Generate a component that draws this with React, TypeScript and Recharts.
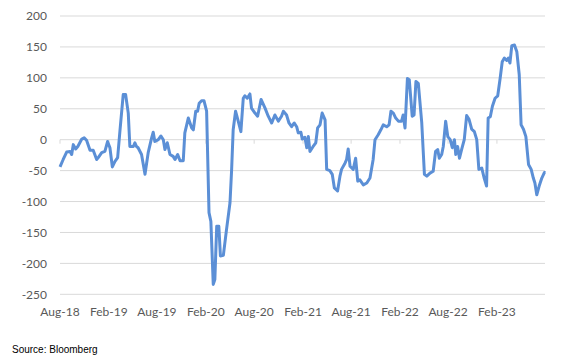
import React from "react";
import { LineChart, Line, XAxis, YAxis, CartesianGrid, ReferenceLine } from "recharts";

const dates: string[] = [
  "2018-08-01","2018-08-13","2018-08-26","2018-09-08","2018-09-14","2018-09-20","2018-09-29","2018-10-07","2018-10-22","2018-10-31",
  "2018-11-09","2018-11-22","2018-12-04","2018-12-17","2018-12-23","2019-01-05","2019-01-17","2019-01-27","2019-02-05","2019-02-14",
  "2019-02-24","2019-03-06","2019-03-15","2019-03-27","2019-04-05","2019-04-15","2019-04-21","2019-05-04","2019-05-10","2019-05-16",
  "2019-05-22","2019-06-04","2019-06-17","2019-06-29","2019-07-12","2019-07-18","2019-07-24","2019-08-06","2019-08-16","2019-08-25",
  "2019-08-31","2019-09-09","2019-09-19","2019-10-01","2019-10-08","2019-10-18","2019-10-27","2019-11-08","2019-11-14","2019-11-27",
  "2019-12-10","2019-12-16","2019-12-25","2020-01-01","2020-01-07","2020-01-16","2020-01-25","2020-02-04","2020-02-13","2020-02-20",
  "2020-02-29","2020-03-06","2020-03-13","2020-03-21","2020-03-27","2020-04-07","2020-04-19","2020-05-02","2020-05-08","2020-05-14",
  "2020-05-23","2020-06-02","2020-06-12","2020-06-21","2020-06-27","2020-07-06","2020-07-16","2020-07-22","2020-08-04","2020-08-14",
  "2020-08-27","2020-09-11","2020-09-23","2020-10-06","2020-10-18","2020-10-31","2020-11-12","2020-11-19","2020-12-01","2020-12-10",
  "2020-12-20","2020-12-30","2021-01-08","2021-01-14","2021-01-24","2021-01-29","2021-02-08","2021-02-15","2021-02-21","2021-02-27",
  "2021-03-11","2021-03-21","2021-03-28","2021-04-06","2021-04-14","2021-04-25","2021-05-01","2021-05-13","2021-05-22","2021-05-30",
  "2021-06-11","2021-06-20","2021-06-26","2021-07-09","2021-07-15","2021-07-21","2021-07-28","2021-08-09","2021-08-18","2021-08-26",
  "2021-09-03","2021-09-16","2021-09-29","2021-10-11","2021-10-23","2021-10-30","2021-11-11","2021-11-21","2021-11-30","2021-12-13",
  "2021-12-22","2021-12-29","2022-01-07","2022-01-16","2022-01-26","2022-02-07","2022-02-13","2022-02-20","2022-03-01","2022-03-08",
  "2022-03-19","2022-03-26","2022-04-02","2022-04-11","2022-04-24","2022-05-04","2022-05-13","2022-05-25","2022-06-06","2022-06-15",
  "2022-06-23","2022-06-29","2022-07-08","2022-07-14","2022-07-23","2022-07-31","2022-08-09","2022-08-17","2022-08-25","2022-08-30",
  "2022-09-06","2022-09-13","2022-09-21","2022-10-01","2022-10-10","2022-10-19","2022-10-29","2022-11-08","2022-11-17","2022-11-25",
  "2022-12-06","2022-12-15","2022-12-24","2022-12-30","2023-01-07","2023-01-15","2023-01-25","2023-02-04","2023-02-13","2023-02-21",
  "2023-03-01","2023-03-10","2023-03-16","2023-03-22","2023-03-29","2023-04-08","2023-04-17","2023-04-26","2023-05-03","2023-05-12",
  "2023-05-21","2023-05-31","2023-06-10","2023-06-18","2023-06-24","2023-07-01","2023-07-10","2023-07-20","2023-07-30","2023-08-01",
];

const values: number[] = [
  -44, -32, -20, -19, -24, -8, -15, -11, 1, 3,
  -1, -17, -17, -32, -29, -21, -19, -3, -13, -44,
  -35, -29, 16, 73, 73, 43, -11, -11, -5, -11,
  -13, -24, -56, -21, 3, 12, -3, 0, 6, 0,
  -16, -5, -24, -27, -32, -24, -34, -34, 11, 35,
  19, 16, 46, 46, 59, 63, 63, 46, -118, -132,
  -234, -226, -140, -140, -188, -187, -145, -102, -50, 16,
  46, 30, 13, 67, 71, 67, 74, 51, 43, 38,
  65, 51, 38, 27, 40, 30, 38, 46, 40, 27,
  21, 27, 21, 11, 12, 1, 4, -13, 5, -19,
  -11, -5, 19, 24, 43, 32, -48, -50, -56, -78,
  -83, -59, -48, -38, -32, -15, -43, -48, -30, -67,
  -65, -73, -70, -62, -32, 0, 8, 16, 24, 21,
  24, 46, 43, 35, 30, 30, 40, 19, 99, 97,
  38, 40, 94, 91, 27, -56, -59, -54, -51, -19,
  -16, -30, -24, -11, 30, 5, 0, -13, 0, -24,
  -11, -30, -16, 0, 39, 33, 17, 13, 0, -48,
  -46, -62, -75, 35, 37, 54, 67, 71, 99, 126,
  132, 128, 132, 124, 152, 153, 142, 105, 24, 17,
  5, -40, -48, -62, -70, -89, -75, -62, -53, -54,
];

const tickDates: string[] = [
  "2018-08-01","2019-02-01","2019-08-01","2020-02-01","2020-08-01",
  "2021-02-01","2021-08-01","2022-02-01","2022-08-01","2023-02-01",
];
const tickLabels: string[] = [
  "Aug-18","Feb-19","Aug-19","Feb-20","Aug-20","Feb-21","Aug-21","Feb-22","Aug-22","Feb-23",
];
const yTicks: number[] = [-250, -200, -150, -100, -50, 0, 50, 100, 150, 200];
const xDomain: string[] = ["2018-08-01", "2023-08-01"];

const ts = (s: string) => Date.parse(s + "T00:00:00Z");
const data = dates.map((d, i) => ({ t: ts(d), v: values[i] }));
const tickTs = tickDates.map(ts);
const fmt = (t: number) => {
  const i = tickTs.indexOf(t);
  return i >= 0 ? tickLabels[i] : "";
};

const FONT = "Lato, 'Liberation Sans', Arial, sans-serif";

export default function App() {
  return (
    <div style={{ position: "absolute", left: 0, top: 0, width: 570, height: 361, background: "#fff" }}>
      <LineChart
        width={570}
        height={361}
        data={data}
        margin={{ top: 16, right: 25, left: 0, bottom: 36.7 }}
      >
        <CartesianGrid vertical={false} stroke="#d9d9d9" strokeWidth={1} />
        <XAxis
          dataKey="t"
          type="number"
          domain={[ts(xDomain[0]), ts(xDomain[1])]}
          ticks={tickTs}
          tickFormatter={fmt}
          axisLine={false}
          tickLine={false}
          tickSize={0}
          tickMargin={13}
          height={30}
          interval={0}
          tick={{ fill: "#595959", fontSize: 12, fontFamily: FONT }}
        />
        <YAxis
          domain={[-250, 200]}
          ticks={yTicks}
          axisLine={false}
          tickLine={false}
          tickSize={0}
          tickMargin={13}
          width={60}
          interval={0}
          tick={{ fill: "#595959", fontSize: 12, fontFamily: FONT }}
        />
        {tickTs.map((t) => (
          <ReferenceLine
            key={t}
            segment={[{ x: t, y: 0 }, { x: t, y: -6.5 }]}
            stroke="#d9d9d9"
            strokeWidth={1}
          />
        ))}
        <Line
          type="linear"
          dataKey="v"
          stroke="#5b8fd6"
          strokeWidth={3}
          dot={false}
          strokeLinejoin="round"
          isAnimationActive={false}
        />
      </LineChart>
      <div
        style={{
          position: "absolute",
          left: 12,
          top: 344,
          fontFamily: "'Liberation Sans', Arial, sans-serif",
          fontSize: 10,
          color: "#000",
          lineHeight: "12px",
          whiteSpace: "nowrap",
        }}
      >
        Source: Bloomberg
      </div>
    </div>
  );
}
